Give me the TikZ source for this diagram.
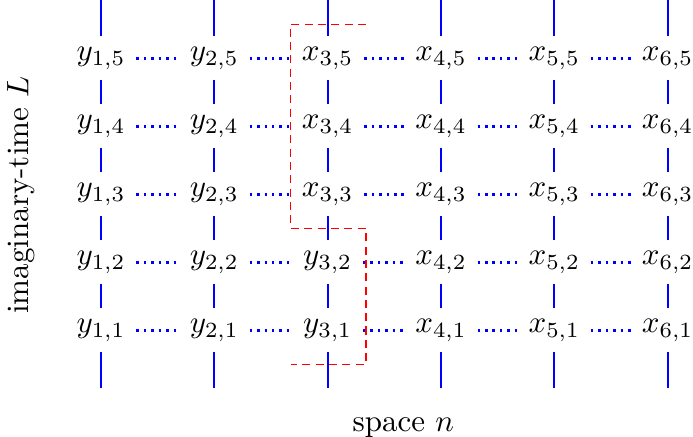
\documentclass[tikz,border=0pt]{standalone}
\usetikzlibrary{calc}
\begin{document}
\begin{tikzpicture}[x=0.3226pt,y=-0.3226pt,
  site/.style={inner sep=3.333pt},
  vline/.style={blue, line width=0.6pt},
  hline/.style={blue, line width=0.8pt, dash pattern=on 0.8pt off 1.6pt},
  cut/.style={red, line width=0.5pt, dash pattern=on 2.6pt off 1.7pt}]
\useasboundingbox (0,0) rectangle (693,437);
\foreach \i in {1,...,6}{
  \pgfmathsetmacro\cx{101+(\i-1)*113.33}
  \foreach \j in {1,...,5}{
    \pgfmathsetmacro\cy{330.3-(\j-1)*68}
    \def\letter{x}
    \ifnum\i<3 \def\letter{y}\fi
    \ifnum\i=3 \ifnum\j<3 \def\letter{y}\fi\fi
    \node[site] (n\i\j) at (\cx,\cy) {$\letter_{\i,\j}$};
  }
  \coordinate (t\i) at (\cx,0);
  \coordinate (b\i) at (\cx,388);
}
% vertical connectors
\foreach \i in {1,...,6}{
  \draw[vline] (t\i) -- (n\i5);
  \foreach \j [evaluate=\j as \k using int(\j+1)] in {1,...,4}
    \draw[vline] (n\i\j) -- (n\i\k);
  \draw[vline] (n\i1) -- (b\i);
}
% horizontal connectors
\foreach \i [evaluate=\i as \k using int(\i+1)] in {1,...,5}
  \foreach \j in {1,...,5}
    \draw[hline] (n\i\j) -- (n\k\j);
% cut
\coordinate (r1) at ($(n35)+(38.3,-34)$);
\coordinate (r2) at ($(n35)+(-37.2,-34)$);
\coordinate (r3) at ($(n33)+(-37.2,34)$);
\coordinate (r4) at ($(n33)+(38.3,34)$);
\coordinate (r5) at ($(n31)+(38.3,34)$);
\coordinate (r6) at ($(n31)+(-36.5,34)$);
\draw[cut] (r1) -- (r2) -- (r3) -- (r4) -- (r5) -- (r6);
% axis labels
\node[rotate=90, anchor=base] (lt) at (28.3,195) {imaginary-time $L$};
\node[anchor=base] (ls) at (403.3,431.7) {space $n$};
\end{tikzpicture}
\end{document}
